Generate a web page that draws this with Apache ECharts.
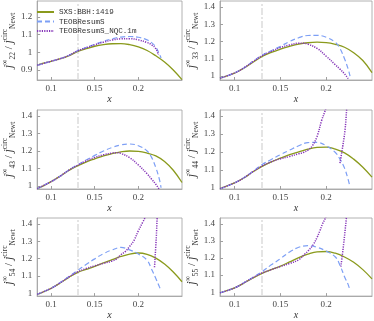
<!DOCTYPE html>
<html><head><meta charset="utf-8">
<script src="https://cdn.jsdelivr.net/npm/echarts@6/dist/echarts.min.js"></script>
<style>html,body{margin:0;padding:0;background:#fff}#c{width:374px;height:321px}</style>
</head><body><div id="c"></div>
<script>
// ---- data ----
const seriesNames = ['SXS:BBH:1419', 'TEOBResumS', 'TEOBResumS_NQC.1m'];
const modeLabels = ['22', '33', '43', '44', '54', '55'];
const xTicks = [0.1, 0.15, 0.2];
const yTicksTop = [0.9, 1, 1.1, 1.2];
const yTicksOther = [1, 1.1, 1.2, 1.3, 1.4];
const xMarker = 0.129;

const xGreen = [0.084,0.09,0.1,0.11,0.12,0.13,0.14,0.15,0.16,0.17,0.18,0.19,0.2,0.21,0.22,0.23,0.24,0.25];
const green22 = [0.926,0.937,0.949,0.962,0.980,1.003,1.020,1.034,1.043,1.048,1.049,1.043,1.030,1.010,0.980,0.945,0.900,0.845];
const green33 = [0.987,0.998,1.017,1.045,1.080,1.113,1.137,1.156,1.172,1.185,1.193,1.196,1.194,1.184,1.167,1.135,1.090,1.020];
const green43 = [0.985,0.998,1.025,1.055,1.088,1.115,1.137,1.155,1.172,1.185,1.195,1.200,1.198,1.188,1.172,1.140,1.090,1.020];
const green44 = [0.996,1.008,1.028,1.055,1.090,1.120,1.145,1.165,1.185,1.200,1.215,1.225,1.227,1.215,1.195,1.160,1.115,1.060];
const green54 = [0.993,1.005,1.028,1.058,1.090,1.119,1.137,1.155,1.175,1.193,1.212,1.226,1.232,1.224,1.202,1.168,1.122,1.066];
const green55 = [0.996,1.006,1.025,1.053,1.083,1.110,1.132,1.152,1.177,1.202,1.222,1.236,1.238,1.228,1.206,1.175,1.132,1.078];

const xBlue = [0.084,0.1,0.11,0.12,0.13,0.14,0.15,0.16,0.17,0.18,0.19,0.2,0.21,0.215,0.22,0.224,0.226];
const blue22 = [0.926,0.949,0.963,0.982,1.008,1.027,1.045,1.062,1.076,1.086,1.089,1.085,1.070,1.055,1.030,0.990,0.968];
const blue33 = [0.987,1.018,1.047,1.085,1.121,1.147,1.172,1.200,1.222,1.235,1.236,1.225,1.195,1.160,1.100,1.040,1.000];
const blue43 = [0.985,1.025,1.055,1.090,1.120,1.148,1.175,1.200,1.220,1.235,1.240,1.230,1.200,1.165,1.105,1.040,0.990];
const blue44 = [0.996,1.028,1.056,1.092,1.130,1.158,1.185,1.210,1.234,1.252,1.253,1.234,1.197,1.160,1.110,1.046,1.005];
const blue54 = [0.993,1.028,1.060,1.095,1.130,1.165,1.198,1.228,1.250,1.264,1.250,1.226,1.190,1.140,1.085,1.038,1.015];
const blue55 = [0.996,1.025,1.055,1.087,1.120,1.160,1.196,1.235,1.263,1.272,1.263,1.240,1.206,1.158,1.090,1.044,1.010];

const xPurple22 = [0.084,0.1,0.11,0.12,0.13,0.14,0.15,0.16,0.17,0.18,0.19,0.2,0.21,0.215,0.22,0.223];
const purple22  = [0.926,0.949,0.963,0.981,1.007,1.025,1.042,1.057,1.069,1.076,1.077,1.070,1.055,1.043,1.020,0.985];
const xPurple33 = [0.084,0.1,0.11,0.12,0.13,0.14,0.15,0.16,0.17,0.175,0.18,0.19,0.2,0.21,0.215,0.22,0.224];
const purple33  = [0.987,1.018,1.047,1.083,1.118,1.143,1.165,1.180,1.190,1.190,1.185,1.160,1.115,1.065,1.040,1.013,0.985];
const xPurple43 = [0.084,0.1,0.11,0.12,0.13,0.14,0.15,0.16,0.17,0.175,0.18,0.19,0.2,0.21,0.215,0.22,0.224];
const purple43  = [0.985,1.025,1.055,1.090,1.118,1.143,1.163,1.178,1.188,1.190,1.186,1.162,1.120,1.070,1.040,1.010,0.980];
const xPurple44 = [0.084,0.1,0.11,0.12,0.13,0.14,0.15,0.16,0.17,0.175,0.18,0.185,0.19,0.195,0.199,0.202,null,0.215,0.218,0.2205,0.2223,0.224];
const purple44  = [0.996,1.028,1.056,1.090,1.122,1.145,1.162,1.175,1.190,1.197,1.210,1.235,1.286,1.375,1.433,1.500,null,1.138,1.230,1.320,1.433,1.550];
const xPurple54 = [0.084,0.1,0.11,0.12,0.13,0.14,0.15,0.16,0.17,0.175,0.18,0.185,0.19,0.195,0.2,0.205,0.208,0.212,null,0.2185,0.2205,0.2215,0.2225];
const purple54  = [0.993,1.028,1.058,1.092,1.122,1.142,1.158,1.172,1.186,1.198,1.222,1.240,1.270,1.305,1.360,1.410,1.440,1.500,null,1.150,1.320,1.434,1.550];
const xPurple55 = [0.084,0.1,0.11,0.12,0.13,0.14,0.15,0.16,0.17,0.177,0.18,0.186,0.19,0.193,0.196,0.199,0.202,null,0.216,0.219,0.222,0.224];
const purple55  = [0.996,1.025,1.054,1.085,1.112,1.132,1.150,1.168,1.190,1.225,1.240,1.280,1.320,1.358,1.400,1.434,1.500,null,1.149,1.280,1.434,1.550];

const yMins = [0.843, 0.977, 0.983, 0.994, 0.983, 0.977];
const yMaxs = [1.29, 1.435, 1.434, 1.433, 1.434, 1.434];

// ---- build ----
const greens = [green22, green33, green43, green44, green54, green55];
const blues = [blue22, blue33, blue43, blue44, blue54, blue55];
const purplesX = [xPurple22, xPurple33, xPurple43, xPurple44, xPurple54, xPurple55];
const purplesY = [purple22, purple33, purple43, purple44, purple54, purple55];
const pair = (xs, ys) => xs.map((x, i) => (x === null ? [null, null] : [x, ys[i]]));

const grids = [
  {left: 28, top: 1, width: 154, height: 79},
  {left: 220, top: 1, width: 152, height: 79},
  {left: 28, top: 110, width: 154, height: 79},
  {left: 220, top: 110, width: 152, height: 79},
  {left: 28, top: 218, width: 154, height: 80},
  {left: 220, top: 218, width: 152, height: 80}
];
const frame = '#a0a0a0';
const fmt = v => String(+(+v).toFixed(2));
const serif = 'Liberation Serif';
const colors = ['#8a9a1c', '#7d9ff5', '#8534b8'];

const xAxis = [], yAxis = [], series = [];
grids.forEach((g, i) => {
  g.show = true; g.borderColor = frame; g.borderWidth = 0.8; g.backgroundColor = '#fff';
  xAxis.push({
    type: 'value', gridIndex: i, min: 0.084, max: 0.25,
    name: 'x', nameLocation: 'middle', nameGap: 12,
    nameTextStyle: {fontFamily: serif, fontStyle: 'italic', fontSize: 10, color: '#333'},
    axisLine: {show: true, lineStyle: {color: frame, width: 0.8}},
    axisTick: {show: true, inside: true, length: 3, lineStyle: {color: frame}, customValues: xTicks},
    axisLabel: {fontFamily: serif, fontSize: 9, color: '#444', margin: 4, formatter: fmt, customValues: xTicks},
    splitLine: {show: false}
  });
  const yt = i === 0 ? yTicksTop : yTicksOther;
  yAxis.push({
    type: 'value', gridIndex: i, min: yMins[i], max: yMaxs[i],
    name: '{j|j}{sup|∞}{sub|' + modeLabels[i] + '}{sl| / }{j|j}{sup|circ}{sub|Newt}',
    nameLocation: 'middle', nameGap: 14, nameRotate: 90,
    nameTextStyle: {
      fontFamily: serif, color: '#333',
      rich: {
        j: {fontFamily: serif, fontStyle: 'italic', fontSize: 12, color: '#333', lineHeight: 16},
        sl: {fontFamily: serif, fontSize: 11, color: '#333', lineHeight: 16},
        sup: {fontFamily: serif, fontSize: 7.5, color: '#333', verticalAlign: 'top', lineHeight: 9},
        sub: {fontFamily: serif, fontSize: 7.5, color: '#333', verticalAlign: 'bottom', lineHeight: 9}
      }
    },
    axisLine: {show: true, lineStyle: {color: frame, width: 0.8}},
    axisTick: {show: true, inside: true, length: 3, lineStyle: {color: frame}, customValues: yt},
    axisLabel: {fontFamily: serif, fontSize: 9, color: '#444', margin: 5, formatter: fmt, customValues: yt},
    splitLine: {show: false}
  });
  series.push({
    name: seriesNames[0], type: 'line', xAxisIndex: i, yAxisIndex: i, showSymbol: false, symbol: 'none',
    smooth: 0.4, z: 3, data: pair(xGreen, greens[i]),
    lineStyle: {color: colors[0], width: 1.3}, itemStyle: {color: colors[0]},
    markLine: {silent: true, symbol: 'none', label: {show: false}, z: 1,
      lineStyle: {color: '#dedede', width: 1.6, type: [7, 2, 2, 2]}, data: [{xAxis: xMarker}]}
  });
  series.push({
    name: seriesNames[1], type: 'line', xAxisIndex: i, yAxisIndex: i, showSymbol: false, symbol: 'none',
    smooth: 0.4, z: 4, data: pair(xBlue, blues[i]),
    lineStyle: {color: colors[1], width: 1.2, type: [5, 3]}, itemStyle: {color: colors[1]}
  });
  series.push({
    name: seriesNames[2], type: 'line', xAxisIndex: i, yAxisIndex: i, showSymbol: false, symbol: 'none',
    smooth: 0.4, z: 5, connectNulls: false, data: pair(purplesX[i], purplesY[i]),
    lineStyle: {color: colors[2], width: 1.5, type: [1.2, 1.2]}, itemStyle: {color: colors[2]}
  });
});

const chart = echarts.init(document.getElementById('c'), null, {renderer: 'canvas'});
chart.setOption({
  animation: false,
  backgroundColor: '#fff',
  legend: {
    data: seriesNames, orient: 'vertical', left: 31, top: 3, itemWidth: 17, itemHeight: 8, itemGap: 1.5,
    textStyle: {fontFamily: 'Liberation Mono', fontSize: 7.6, color: '#333'},
    itemStyle: {opacity: 0},
    backgroundColor: 'rgba(255,255,255,0)'
  },
  grid: grids, xAxis: xAxis, yAxis: yAxis, series: series
});
</script></body></html>
